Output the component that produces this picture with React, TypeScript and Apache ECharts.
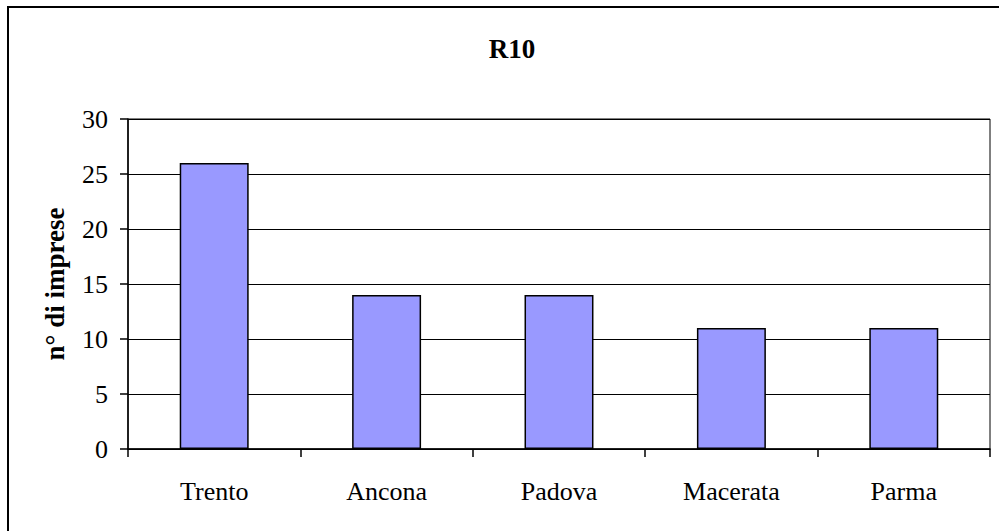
import React, { useEffect, useRef } from "react";
import * as echarts from "echarts";

const categories = ["Trento", "Ancona", "Padova", "Macerata", "Parma"];
const values = [26, 14, 14, 11, 11];
const yTicks = { min: 0, max: 30, interval: 5 };
const titleText = "R10";
const yAxisName = "n° di imprese";

const FONT = "'Liberation Serif', 'Times New Roman', serif";

export default function App() {
  const ref = useRef<HTMLDivElement>(null);
  useEffect(() => {
    if (!ref.current) return;
    const chart = echarts.init(ref.current, undefined, { renderer: "svg" });
    chart.setOption({
      animation: false,
      backgroundColor: "#ffffff",
      title: {
        text: titleText,
        left: 507,
        textAlign: "center",
        top: 30,
        textStyle: { fontFamily: FONT, fontSize: 27, fontWeight: "bold", color: "#000" },
      },
      graphic: [
        {
          type: "rect",
          shape: { x: 8, y: 7, width: 1100, height: 600 },
          style: { fill: "none", stroke: "#000", lineWidth: 2 },
          silent: true,
        },
      ],
      grid: {
        left: 128,
        top: 119,
        right: 9,
        bottom: 82,
        show: true,
        borderColor: "#000",
        borderWidth: 1,
        backgroundColor: "transparent",
      },
      xAxis: {
        type: "category",
        data: categories,
        axisLine: { lineStyle: { color: "#000", width: 1.5 } },
        axisTick: { show: true, length: 8, alignWithLabel: false, lineStyle: { color: "#000", width: 1.5 } },
        axisLabel: { fontFamily: FONT, fontSize: 26, color: "#000", margin: 29 },
      },
      yAxis: {
        type: "value",
        min: yTicks.min,
        max: yTicks.max,
        interval: yTicks.interval,
        name: yAxisName,
        nameLocation: "middle",
        nameGap: 60,
        nameTextStyle: { fontFamily: FONT, fontSize: 27, fontWeight: "bold", color: "#000" },
        axisLine: { show: true, lineStyle: { color: "#000", width: 1.5 } },
        axisTick: { show: true, length: 8, lineStyle: { color: "#000", width: 1.5 } },
        axisLabel: { fontFamily: FONT, fontSize: 26, color: "#000", margin: 20 },
        splitLine: { show: true, lineStyle: { color: "#000", width: 1 } },
      },
      series: [
        {
          type: "bar",
          data: values,
          barWidth: "40%",
          itemStyle: { color: "#9999FF", borderColor: "#000", borderWidth: 1.5 },
        },
      ],
    });
    return () => chart.dispose();
  }, []);
  return (
    <div
      ref={ref}
      style={{ position: "absolute", left: 0, top: 0, width: 999, height: 531 }}
    />
  );
}
